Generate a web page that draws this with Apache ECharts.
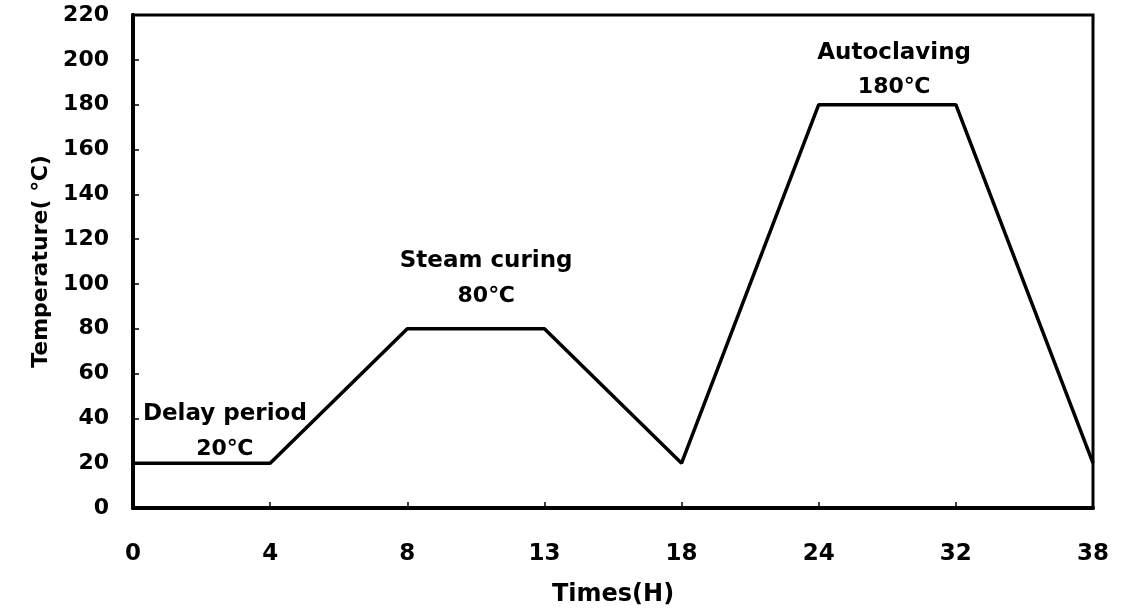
<!DOCTYPE html>
<html>
<head>
<meta charset="utf-8">
<script src="https://cdn.jsdelivr.net/npm/echarts@6/dist/echarts.min.js"></script>
<style>
  html, body { margin: 0; padding: 0; background: #fff; }
  #chart { width: 1124px; height: 616px; }
</style>
</head>
<body>
<div id="chart"></div>
<script>
  // x axis hours (drawn evenly spaced like the original)
  const times = ['0', '4', '8', '13', '18', '24', '32', '38'];
  const temps = [20, 20, 80, 80, 20, 180, 180, 20];
  const yTicks = { min: 0, max: 220, interval: 20 };
  const stageNames = ['Delay period', 'Steam curing', 'Autoclaving'];
  const stageTemps = ['20℃', '80℃', '180℃'];

  const font = '"DejaVu Sans", "Liberation Sans", sans-serif';
  const chart = echarts.init(document.getElementById('chart'));

  chart.setOption({
    animation: false,
    grid: {
      left: 133, right: 31, top: 15, bottom: 108,
      show: true, borderColor: '#000', borderWidth: 3
    },
    xAxis: {
      type: 'category',
      data: times,
      boundaryGap: false,
      name: 'Times(H)',
      nameLocation: 'middle',
      nameGap: 75,
      nameTextStyle: { fontFamily: font, fontWeight: 'bold', fontSize: 24, color: '#000' },
      axisLine: { lineStyle: { color: '#000', width: 4 } },
      axisTick: { inside: true, length: 6, lineStyle: { color: '#000', width: 1.5 } },
      axisLabel: { margin: 35, fontFamily: font, fontWeight: 'bold', fontSize: 23, color: '#000' },
      splitLine: { show: false }
    },
    yAxis: {
      type: 'value',
      min: yTicks.min, max: yTicks.max, interval: yTicks.interval,
      name: 'Temperature( ℃)',
      nameLocation: 'middle',
      nameGap: 80,
      nameTextStyle: { fontFamily: font, fontWeight: 'bold', fontSize: 22, color: '#000' },
      axisLine: { show: true, lineStyle: { color: '#000', width: 4 } },
      axisTick: { show: true, inside: true, length: 6, lineStyle: { color: '#000', width: 1.5 } },
      axisLabel: { margin: 24, fontFamily: font, fontWeight: 'bold', fontSize: 22, color: '#000' },
      splitLine: { show: false }
    },
    series: [{
      type: 'line',
      data: temps,
      symbol: 'none',
      lineStyle: { color: '#000', width: 3.5 }
    }]
  });

  // category axis rounds fractional indices, so interpolate between neighbours
  function toPixel(idx, val) {
    const i0 = Math.floor(idx), i1 = Math.min(i0 + 1, times.length - 1);
    const a = chart.convertToPixel({ gridIndex: 0 }, [i0, val]);
    const b = chart.convertToPixel({ gridIndex: 0 }, [i1, val]);
    return [a[0] + (b[0] - a[0]) * (idx - i0), a[1]];
  }

  // stage labels: [category position, name level, temperature level]
  const anchors = [[0.67, 42, 26], [2.575, 110, 94.6], [5.55, 203, 187.6]];
  const graphics = [];
  anchors.forEach((a, i) => {
    const p1 = toPixel(a[0], a[1]);
    const p2 = toPixel(a[0], a[2]);
    graphics.push({
      type: 'text', x: p1[0], y: p1[1],
      style: { text: stageNames[i], font: 'bold 23px ' + font, fill: '#000', align: 'center', verticalAlign: 'middle' }
    });
    graphics.push({
      type: 'text', x: p2[0], y: p2[1],
      style: { text: stageTemps[i], font: 'bold 22px ' + font, fill: '#000', align: 'center', verticalAlign: 'middle' }
    });
  });
  chart.setOption({ graphic: graphics });
</script>
</body>
</html>
